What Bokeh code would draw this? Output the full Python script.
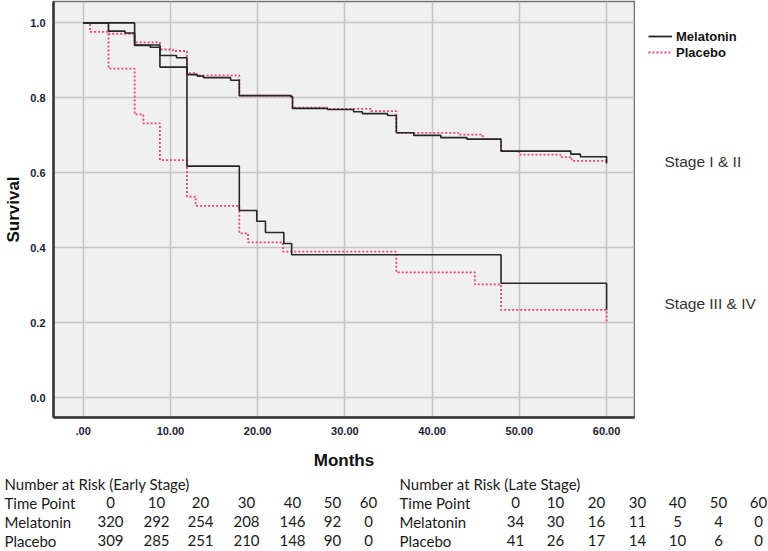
import numpy as np
from bokeh.plotting import figure
from bokeh.layouts import row, column
from bokeh.models import (ColumnDataSource, FixedTicker, Legend, LegendItem,
                          NumeralTickFormatter, Range1d)
from bokeh.core.properties import value
from bokeh.embed import file_html
from bokeh.resources import INLINE

# ---------------- data ----------------
early_mel_t = [0, 2.9, 4.8, 5.9, 7.7, 8.8, 10.7, 11.9, 13.1, 13.8, 16.9, 17.9, 23.8, 24.0,
               28.0, 31.0, 32.0, 34.9, 35.9, 37.9, 41.0, 44.0, 47.9, 55.9, 57.0, 60.0]
early_mel_s = [1.0, 0.978, 0.973, 0.940, 0.935, 0.913, 0.907, 0.862, 0.858, 0.854, 0.847, 0.806,
               0.803, 0.772, 0.769, 0.763, 0.758, 0.753, 0.707, 0.700, 0.694, 0.690, 0.658,
               0.650, 0.643, 0.625]

early_pla_t = [0, 2.9, 5.9, 8.8, 10.3, 11.9, 13.0, 17.9, 24.0, 28.0, 33.0, 35.9, 43.0, 45.8,
               47.9, 50.0, 54.7, 56.0, 60.0]
early_pla_s = [1.0, 0.971, 0.948, 0.929, 0.925, 0.866, 0.860, 0.806, 0.774, 0.771, 0.765, 0.707,
               0.702, 0.690, 0.658, 0.649, 0.642, 0.632, 0.625]

late_mel_t = [0, 5.9, 8.8, 11.9, 17.9, 19.9, 20.9, 23.0, 23.9, 47.9, 60.0]
late_mel_s = [1.0, 0.941, 0.882, 0.618, 0.500, 0.471, 0.441, 0.412, 0.382, 0.306, 0.235]

late_pla_t = [0, 0.8, 2.9, 5.9, 6.9, 8.8, 11.9, 12.9, 17.9, 18.9, 22.9, 35.9, 44.9, 47.9, 60.0]
late_pla_s = [1.0, 0.976, 0.878, 0.756, 0.732, 0.634, 0.537, 0.512, 0.439, 0.415, 0.390,
              0.335, 0.303, 0.235, 0.200]

x_ticks = [0, 10, 20, 30, 40, 50, 60]
x_tick_labels = [".00", "10.00", "20.00", "30.00", "40.00", "50.00", "60.00"]
y_ticks = [0.0, 0.2, 0.4, 0.6, 0.8, 1.0]

series_names = ["Melatonin", "Placebo"]
stage_labels = ["Stage I & II", "Stage III & IV"]
stage_label_y = [0.631, 0.253]

risk_time_points = [0, 10, 20, 30, 40, 50, 60]
early_risk_mel = [320, 292, 254, 208, 146, 92, 0]
early_risk_pla = [309, 285, 251, 210, 148, 90, 0]
late_risk_mel = [34, 30, 16, 11, 5, 4, 0]
late_risk_pla = [41, 26, 17, 14, 10, 6, 0]

# ---------------- layout constants (page px) ----------------
TOTAL_W, TOTAL_H = 768, 550
MAIN_W, TOP_H = 635, 472
SIDE_W = TOTAL_W - MAIN_W
TABLE_H = TOTAL_H - TOP_H
FRAME_L, FRAME_R = 53, 634
FRAME_T, FRAME_B = 1, 418
X_LO, X_HI = -3.4, 63.2
Y_LO, Y_HI = -0.052, 1.057

BLACK = "#262626"
PINK = "#e8456f"

# ---------------- main KM plot ----------------
p = figure(width=MAIN_W, height=TOP_H, x_range=(X_LO, X_HI), y_range=(Y_LO, Y_HI),
           output_backend="svg", toolbar_location=None,
           min_border_left=FRAME_L, min_border_right=MAIN_W - FRAME_R,
           min_border_top=FRAME_T, min_border_bottom=TOP_H - FRAME_B,
           background_fill_color="#f0f0f0", border_fill_color="white")
p.outline_line_color = "#707070"
p.outline_line_width = 1.5

p.xgrid.ticker = FixedTicker(ticks=x_ticks)
p.ygrid.ticker = FixedTicker(ticks=y_ticks)
for g in (p.xgrid, p.ygrid):
    g.grid_line_color = "#c4c4c4"
    g.grid_line_width = 1.5

p.xaxis.ticker = FixedTicker(ticks=x_ticks)
p.xaxis.major_label_overrides = {t: l for t, l in zip(x_ticks, x_tick_labels)}
p.yaxis.ticker = FixedTicker(ticks=y_ticks)
p.yaxis.formatter = NumeralTickFormatter(format="0.0")
for ax in (p.xaxis, p.yaxis):
    ax.axis_line_color = "#333333"
    ax.axis_line_width = 2.5
    ax.major_tick_line_color = None
    ax.minor_tick_line_color = None
    ax.major_tick_out = 0
    ax.major_tick_in = 0
    ax.minor_tick_out = 0
    ax.major_label_text_font = "Liberation Sans"
    ax.major_label_text_font_style = "bold"
    ax.major_label_text_font_size = "11px"
    ax.major_label_text_color = "#1c1c34"
    ax.axis_label_text_font = "Liberation Sans"
    ax.axis_label_text_font_style = "bold"
    ax.axis_label_text_font_size = "17px"
    ax.axis_label_text_color = "#111111"
p.xaxis.axis_label = "Months"
p.yaxis.axis_label = "Survival"
p.xaxis.major_label_standoff = 9
p.xaxis.axis_label_standoff = 13
p.yaxis.major_label_standoff = 8
p.yaxis.axis_label_standoff = 4

for t, s, col, dash, lw in ((late_pla_t, late_pla_s, PINK, "2 2", 1.8),
                            (early_pla_t, early_pla_s, PINK, "2 2", 1.8),
                            (late_mel_t, late_mel_s, BLACK, "solid", 1.6),
                            (early_mel_t, early_mel_s, BLACK, "solid", 1.6)):
    p.step(x="t", y="s", source=ColumnDataSource(dict(t=t, s=s)), mode="after",
           line_color=col, line_width=lw, line_dash=dash)

# ---------------- side panel: legend + stage labels ----------------
side = figure(width=SIDE_W, height=TOP_H, x_range=(0, SIDE_W), y_range=p.y_range,
              output_backend="svg", toolbar_location=None,
              x_axis_location=None, y_axis_location=None,
              min_border_left=0, min_border_right=0,
              min_border_top=FRAME_T, min_border_bottom=TOP_H - FRAME_B,
              background_fill_color="white", border_fill_color="white")
side.outline_line_color = None
side.xgrid.visible = False
side.ygrid.visible = False

# legend-only renderers (no visible points)
nan_src = ColumnDataSource(dict(x=np.array([np.nan]), y=np.array([np.nan])))
leg_mel = side.line(x="x", y="y", source=nan_src, line_color=BLACK, line_width=1.8)
leg_pla = side.line(x="x", y="y", source=nan_src, line_color=PINK, line_width=1.8,
                    line_dash="2 2")
legend = Legend(items=[LegendItem(label=series_names[0], renderers=[leg_mel]),
                       LegendItem(label=series_names[1], renderers=[leg_pla])],
                location=(648 - FRAME_R - 1, (FRAME_B - FRAME_T) - (29 - FRAME_T) - 32),
                padding=0, margin=0, spacing=0, label_height=16, glyph_height=16,
                glyph_width=24, label_standoff=4,
                border_line_color=None, background_fill_alpha=0,
                label_text_font="Liberation Sans", label_text_font_style="bold",
                label_text_font_size="13px", label_text_color="#111111")
side.add_layout(legend)

side.text(x=[664 - MAIN_W] * len(stage_labels), y=stage_label_y, text=stage_labels,
          text_font=value("Liberation Sans"), text_font_size="15.5px",
          text_color="#333333", text_baseline="middle", text_align="left")

# ---------------- number-at-risk tables ----------------
tables = figure(width=TOTAL_W, height=TABLE_H, x_range=Range1d(0, TOTAL_W),
                y_range=Range1d(TABLE_H, 0), output_backend="svg", toolbar_location=None,
                x_axis_location=None, y_axis_location=None,
                min_border_left=0, min_border_right=0, min_border_top=0,
                min_border_bottom=0, background_fill_color="white",
                border_fill_color="white")
tables.outline_line_color = None
tables.xgrid.visible = False
tables.ygrid.visible = False

row_y = [483, 502, 521, 540]
early_cols = [110, 156, 200, 246, 292, 332, 368]
late_cols = [515, 555, 596, 637, 677, 718, 758]
TFONT = "15px"


def add_table(title, left_x, cols, mel, pla):
    heads = [title, "Time Point", "Melatonin", "Placebo"]
    tables.text(x=[left_x] * 4, y=[v - TOP_H for v in row_y], text=heads,
                text_font=value("Lato"), text_font_size=TFONT, text_color="#1a1a1a",
                text_baseline="middle", text_align="left")
    xs, ys, ts = [], [], []
    for ry, vals in zip(row_y[1:], (risk_time_points, mel, pla)):
        for cx, v in zip(cols, vals):
            xs.append(cx)
            ys.append(ry - TOP_H)
            ts.append(str(v))
    tables.text(x=xs, y=ys, text=ts, text_font=value("Lato"), text_font_size=TFONT,
                text_color="#1a1a1a", text_baseline="middle", text_align="center")


add_table("Number at Risk (Early Stage)", 4, early_cols, early_risk_mel, early_risk_pla)
add_table("Number at Risk (Late Stage)", 399, late_cols, late_risk_mel, late_risk_pla)

layout = column(row(p, side, spacing=0), tables, spacing=0)
open("out.html", "w").write(file_html(layout, INLINE))
